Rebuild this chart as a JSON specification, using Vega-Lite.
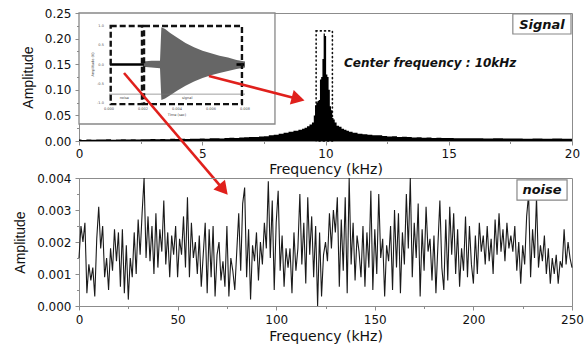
{
"$schema": "https://vega.github.io/schema/vega-lite/v6.json",
"background": "white",
"padding": {"left": 13, "top": 6, "right": 0, "bottom": 0},
"config": {
 "view": {"stroke": "#8c8c8c", "strokeWidth": 1},
 "axis": {"grid": false, "labelOverlap": false, "labelFlush": false, "domainColor": "#8c8c8c", "tickColor": "#8c8c8c", "tickSize": 4, "tickCount": 30, "labelFont": "DejaVu Sans", "labelFontSize": 12, "labelColor": "#111", "titleFont": "DejaVu Sans", "titleFontSize": 14, "titleFontWeight": "normal", "titleColor": "#111"},
 "axisY": {"titleFont": "Liberation Sans", "titleFontSize": 14}
},
"datasets": {
 "spectrum": [
  {"f":0,"a":0.003},{"f":0.2,"a":0.002},{"f":0.4,"a":0.003},{"f":0.6,"a":0.0025},{"f":0.8,"a":0.003},{"f":1.0,"a":0.0028},{"f":1.2,"a":0.0032},{"f":1.4,"a":0.0025},{"f":1.6,"a":0.003},{"f":1.8,"a":0.0035},{"f":2.0,"a":0.003},{"f":2.2,"a":0.0033},{"f":2.4,"a":0.0028},{"f":2.6,"a":0.0035},{"f":2.8,"a":0.0032},{"f":3.0,"a":0.0038},{"f":3.2,"a":0.0033},{"f":3.4,"a":0.004},{"f":3.6,"a":0.0036},{"f":3.8,"a":0.0042},{"f":4.0,"a":0.0038},{"f":4.2,"a":0.0045},{"f":4.4,"a":0.004},{"f":4.6,"a":0.0046},{"f":4.8,"a":0.0043},{"f":5.0,"a":0.005},{"f":5.2,"a":0.0046},{"f":5.4,"a":0.0052},{"f":5.6,"a":0.0055},{"f":5.8,"a":0.005},{"f":6.0,"a":0.006},{"f":6.2,"a":0.0065},{"f":6.4,"a":0.006},{"f":6.6,"a":0.007},{"f":6.8,"a":0.0075},{"f":7.0,"a":0.008},{"f":7.2,"a":0.0078},{"f":7.4,"a":0.009},{"f":7.6,"a":0.0095},{"f":7.8,"a":0.011},{"f":8.0,"a":0.012},{"f":8.2,"a":0.014},{"f":8.4,"a":0.016},{"f":8.6,"a":0.018},{"f":8.8,"a":0.02},{"f":9.0,"a":0.022},{"f":9.1,"a":0.024},{"f":9.2,"a":0.026},{"f":9.3,"a":0.029},{"f":9.4,"a":0.032},{"f":9.5,"a":0.036},{"f":9.55,"a":0.05},{"f":9.6,"a":0.07},{"f":9.65,"a":0.075},{"f":9.7,"a":0.078},{"f":9.75,"a":0.08},{"f":9.8,"a":0.12},{"f":9.85,"a":0.125},{"f":9.9,"a":0.16},{"f":9.95,"a":0.21},{"f":10.0,"a":0.205},{"f":10.05,"a":0.13},{"f":10.1,"a":0.125},{"f":10.15,"a":0.1},{"f":10.2,"a":0.068},{"f":10.25,"a":0.06},{"f":10.3,"a":0.045},{"f":10.35,"a":0.042},{"f":10.4,"a":0.036},{"f":10.5,"a":0.03},{"f":10.6,"a":0.028},{"f":10.7,"a":0.024},{"f":10.8,"a":0.022},{"f":10.9,"a":0.02},{"f":11.0,"a":0.018},{"f":11.2,"a":0.016},{"f":11.4,"a":0.014},{"f":11.6,"a":0.013},{"f":11.8,"a":0.012},{"f":12.0,"a":0.011},{"f":12.2,"a":0.011},{"f":12.4,"a":0.01},{"f":12.6,"a":0.009},{"f":12.8,"a":0.0095},{"f":13.0,"a":0.008},{"f":13.2,"a":0.0085},{"f":13.4,"a":0.0078},{"f":13.6,"a":0.007},{"f":13.8,"a":0.0072},{"f":14.0,"a":0.0065},{"f":14.2,"a":0.0068},{"f":14.4,"a":0.006},{"f":14.6,"a":0.0062},{"f":14.8,"a":0.0058},{"f":15.0,"a":0.006},{"f":15.4,"a":0.0055},{"f":15.8,"a":0.0052},{"f":16.2,"a":0.0055},{"f":16.6,"a":0.005},{"f":17.0,"a":0.0052},{"f":17.4,"a":0.0048},{"f":17.8,"a":0.005},{"f":18.2,"a":0.0046},{"f":18.6,"a":0.0048},{"f":19.0,"a":0.0045},{"f":19.4,"a":0.0047},{"f":19.8,"a":0.0044},{"f":20.0,"a":0.0045}
 ],
 "noise": [
  {"f":0,"a":0.0015},{"f":1,"a":0.0025},{"f":2,"a":0.0020},{"f":3,"a":0.0026},{"f":4,"a":0.0004},{"f":5,"a":0.0013},{"f":6,"a":0.0008},{"f":7,"a":0.0012},{"f":8,"a":0.0003},{"f":9,"a":0.0021},
  {"f":10,"a":0.0031},{"f":11,"a":0.0018},{"f":12,"a":0.0025},{"f":13,"a":0.0009},{"f":14,"a":0.0015},{"f":15,"a":0.0005},{"f":16,"a":0.0018},{"f":17,"a":0.0011},{"f":18,"a":0.0024},{"f":19,"a":0.0014},
  {"f":20,"a":0.0023},{"f":21,"a":0.0006},{"f":22,"a":0.0024},{"f":23,"a":0.0004},{"f":24,"a":0.0019},{"f":25,"a":0.0002},{"f":26,"a":0.0015},{"f":27,"a":0.0009},{"f":28,"a":0.0023},{"f":29,"a":0.0010},
  {"f":30,"a":0.0027},{"f":31,"a":0.0016},{"f":32,"a":0.0029},{"f":33,"a":0.0040},{"f":34,"a":0.0015},{"f":35,"a":0.0028},{"f":36,"a":0.0014},{"f":37,"a":0.0025},{"f":38,"a":0.0010},{"f":39,"a":0.0029},
  {"f":40,"a":0.0012},{"f":41,"a":0.0024},{"f":42,"a":0.0017},{"f":43,"a":0.0033},{"f":44,"a":0.0013},{"f":45,"a":0.0023},{"f":46,"a":0.0009},{"f":47,"a":0.0022},{"f":48,"a":0.0016},{"f":49,"a":0.0025},
  {"f":50,"a":0.0009},{"f":51,"a":0.0021},{"f":52,"a":0.0016},{"f":53,"a":0.0028},{"f":54,"a":0.0012},{"f":55,"a":0.0034},{"f":56,"a":0.0009},{"f":57,"a":0.0026},{"f":58,"a":0.0015},{"f":59,"a":0.0020},
  {"f":60,"a":0.0010},{"f":61,"a":0.0022},{"f":62,"a":0.0006},{"f":63,"a":0.0016},{"f":64,"a":0.0026},{"f":65,"a":0.0004},{"f":66,"a":0.0024},{"f":67,"a":0.0009},{"f":68,"a":0.0025},{"f":69,"a":0.0003},
  {"f":70,"a":0.0016},{"f":71,"a":0.0020},{"f":72,"a":0.0008},{"f":73,"a":0.0014},{"f":74,"a":0.0006},{"f":75,"a":0.0025},{"f":76,"a":0.0003},{"f":77,"a":0.0015},{"f":78,"a":0.0011},{"f":79,"a":0.0005},
  {"f":80,"a":0.0017},{"f":81,"a":0.0029},{"f":82,"a":0.0011},{"f":83,"a":0.0032},{"f":84,"a":0.0037},{"f":85,"a":0.0009},{"f":86,"a":0.0024},{"f":87,"a":0.0002},{"f":88,"a":0.0019},{"f":89,"a":0.0014},
  {"f":90,"a":0.0023},{"f":91,"a":0.0008},{"f":92,"a":0.0020},{"f":93,"a":0.0013},{"f":94,"a":0.0026},{"f":95,"a":0.0018},{"f":96,"a":0.0039},{"f":97,"a":0.0015},{"f":98,"a":0.0033},{"f":99,"a":0.0005},
  {"f":100,"a":0.0026},{"f":101,"a":0.0036},{"f":102,"a":0.0011},{"f":103,"a":0.0022},{"f":104,"a":0.0006},{"f":105,"a":0.0018},{"f":106,"a":0.0012},{"f":107,"a":0.0018},{"f":108,"a":0.0004},{"f":109,"a":0.0023},
  {"f":110,"a":0.0011},{"f":111,"a":0.0018},{"f":112,"a":0.0035},{"f":113,"a":0.0013},{"f":114,"a":0.0026},{"f":115,"a":0.0007},{"f":116,"a":0.0034},{"f":117,"a":0.0016},{"f":118,"a":0.0028},{"f":119,"a":0.0009},
  {"f":120,"a":0.0025},{"f":121,"a":0.0000},{"f":122,"a":0.0023},{"f":123,"a":0.0003},{"f":124,"a":0.0016},{"f":125,"a":0.0020},{"f":126,"a":0.0014},{"f":127,"a":0.0029},{"f":128,"a":0.0018},{"f":129,"a":0.0030},
  {"f":130,"a":0.0023},{"f":131,"a":0.0034},{"f":132,"a":0.0006},{"f":133,"a":0.0027},{"f":134,"a":0.0011},{"f":135,"a":0.0034},{"f":136,"a":0.0004},{"f":137,"a":0.0040},{"f":138,"a":0.0013},{"f":139,"a":0.0026},
  {"f":140,"a":0.0008},{"f":141,"a":0.0022},{"f":142,"a":0.0017},{"f":143,"a":0.0009},{"f":144,"a":0.0025},{"f":145,"a":0.0006},{"f":146,"a":0.0023},{"f":147,"a":0.0012},{"f":148,"a":0.0036},{"f":149,"a":0.0005},
  {"f":150,"a":0.0024},{"f":151,"a":0.0010},{"f":152,"a":0.0035},{"f":153,"a":0.0015},{"f":154,"a":0.0021},{"f":155,"a":0.0003},{"f":156,"a":0.0019},{"f":157,"a":0.0014},{"f":158,"a":0.0025},{"f":159,"a":0.0005},
  {"f":160,"a":0.0030},{"f":161,"a":0.0012},{"f":162,"a":0.0029},{"f":163,"a":0.0004},{"f":164,"a":0.0023},{"f":165,"a":0.0013},{"f":166,"a":0.0035},{"f":167,"a":0.0018},{"f":168,"a":0.0040},{"f":169,"a":0.0009},
  {"f":170,"a":0.0026},{"f":171,"a":0.0015},{"f":172,"a":0.0032},{"f":173,"a":0.0003},{"f":174,"a":0.0024},{"f":175,"a":0.0011},{"f":176,"a":0.0031},{"f":177,"a":0.0017},{"f":178,"a":0.0021},{"f":179,"a":0.0008},
  {"f":180,"a":0.0022},{"f":181,"a":0.0004},{"f":182,"a":0.0019},{"f":183,"a":0.0033},{"f":184,"a":0.0012},{"f":185,"a":0.0005},{"f":186,"a":0.0027},{"f":187,"a":0.0008},{"f":188,"a":0.0031},{"f":189,"a":0.0016},
  {"f":190,"a":0.0029},{"f":191,"a":0.0010},{"f":192,"a":0.0024},{"f":193,"a":0.0006},{"f":194,"a":0.0018},{"f":195,"a":0.0011},{"f":196,"a":0.0028},{"f":197,"a":0.0009},{"f":198,"a":0.0025},{"f":199,"a":0.0013},
  {"f":200,"a":0.0007},{"f":201,"a":0.0022},{"f":202,"a":0.0010},{"f":203,"a":0.0026},{"f":204,"a":0.0017},{"f":205,"a":0.0022},{"f":206,"a":0.0013},{"f":207,"a":0.0025},{"f":208,"a":0.0014},{"f":209,"a":0.0021},
  {"f":210,"a":0.0010},{"f":211,"a":0.0027},{"f":212,"a":0.0016},{"f":213,"a":0.0029},{"f":214,"a":0.0017},{"f":215,"a":0.0024},{"f":216,"a":0.0014},{"f":217,"a":0.0026},{"f":218,"a":0.0018},{"f":219,"a":0.0022},
  {"f":220,"a":0.0017},{"f":221,"a":0.0025},{"f":222,"a":0.0011},{"f":223,"a":0.0020},{"f":224,"a":0.0007},{"f":225,"a":0.0019},{"f":226,"a":0.0013},{"f":227,"a":0.0028},{"f":228,"a":0.0035},{"f":229,"a":0.0009},
  {"f":230,"a":0.0024},{"f":231,"a":0.0015},{"f":232,"a":0.0034},{"f":233,"a":0.0012},{"f":234,"a":0.0019},{"f":235,"a":0.0014},{"f":236,"a":0.0022},{"f":237,"a":0.0010},{"f":238,"a":0.0018},{"f":239,"a":0.0007},
  {"f":240,"a":0.0015},{"f":241,"a":0.0010},{"f":242,"a":0.0016},{"f":243,"a":0.0007},{"f":244,"a":0.0014},{"f":245,"a":0.0012},{"f":246,"a":0.0024},{"f":247,"a":0.0013},{"f":248,"a":0.0020},{"f":249,"a":0.0015},
  {"f":250,"a":0.0012}
 ],
 "envelope": [
  {"t":2.0,"hi":0.08,"lo":-0.06},{"t":2.5,"hi":0.1,"lo":-0.08},{"t":3.0,"hi":0.1,"lo":-0.1},{"t":3.08,"hi":0.97,"lo":-0.92},{"t":3.3,"hi":0.92,"lo":-0.88},{"t":3.6,"hi":0.82,"lo":-0.8},{"t":4.0,"hi":0.7,"lo":-0.68},{"t":4.5,"hi":0.56,"lo":-0.55},{"t":5.0,"hi":0.45,"lo":-0.44},{"t":5.5,"hi":0.36,"lo":-0.35},{"t":6.0,"hi":0.29,"lo":-0.28},{"t":6.5,"hi":0.23,"lo":-0.22},{"t":7.0,"hi":0.18,"lo":-0.17},{"t":7.5,"hi":0.12,"lo":-0.12},{"t":8.0,"hi":0.08,"lo":-0.08}
 ]
},
"bounds": "flush",
"spacing": 37,
"vconcat": [
 {
  "width": 493,
  "height": 128,
  "resolve": {"scale": {"x": "independent", "y": "independent"}},
  "layer": [
   {
    "layer": [
     {
      "data": {"values": [{"f1": 9.62, "f2": 10.28, "a1": 0, "a2": 0.215}]},
      "mark": {"type": "rect", "fill": null, "stroke": "#111", "strokeWidth": 1.6, "strokeDash": [1, 3.2], "strokeCap": "round"},
      "encoding": {
       "x": {"field": "f1", "type": "quantitative", "scale": {"domain": [0, 20], "nice": false, "zero": false}, "title": "Frequency (kHz)", "axis": {"values": [0, 5, 10, 15, 20], "tickCount": 30, "format": "d", "labelPadding": 3, "titlePadding": 3, "labelOverlap": false, "labelFlush": false}},
       "x2": {"field": "f2"},
       "y": {"field": "a1", "type": "quantitative", "scale": {"domain": [0, 0.25], "nice": false, "zero": false}, "title": "Amplitude", "axis": {"values": [0, 0.05, 0.1, 0.15, 0.2, 0.25], "tickCount": 30, "format": ".2f", "labelPadding": 4, "titlePadding": 9, "labelOverlap": false}},
       "y2": {"field": "a2"}
      }
     },
     {
      "data": {"name": "spectrum"},
      "mark": {"type": "area", "interpolate": "step", "color": "#000"},
      "encoding": {
       "x": {"field": "f", "type": "quantitative", "title": "Frequency (kHz)"},
       "y": {"field": "a", "type": "quantitative", "title": "Amplitude"}
      }
     },
     {
      "data": {"values": [{"f1": 0, "f2": 7.95, "a1": 0.0332, "a2": 0.25}]},
      "mark": {"type": "rect", "fill": "white", "stroke": "#888", "strokeWidth": 1.3},
      "encoding": {
       "x": {"field": "f1", "type": "quantitative", "title": "Frequency (kHz)"},
       "x2": {"field": "f2"},
       "y": {"field": "a1", "type": "quantitative", "title": "Amplitude"},
       "y2": {"field": "a2"}
      }
     },
     {
      "data": {"values": [{"f1": 17.6, "f2": 19.96, "a1": 0.209, "a2": 0.248}]},
      "mark": {"type": "rect", "fill": "white", "stroke": "#888", "strokeWidth": 1.2},
      "encoding": {
       "x": {"field": "f1", "type": "quantitative", "title": "Frequency (kHz)"},
       "x2": {"field": "f2"},
       "y": {"field": "a1", "type": "quantitative", "title": "Amplitude"},
       "y2": {"field": "a2"}
      }
     },
     {
      "data": {"values": [{"f": 18.78, "a": 0.2266, "txt": "Signal"}]},
      "mark": {"type": "text", "font": "DejaVu Sans", "fontSize": 13, "fontWeight": "bold", "fontStyle": "italic", "align": "center", "baseline": "middle", "color": "#111"},
      "encoding": {
       "x": {"field": "f", "type": "quantitative", "title": "Frequency (kHz)"},
       "y": {"field": "a", "type": "quantitative", "title": "Amplitude"},
       "text": {"field": "txt"}
      }
     },
     {
      "data": {"values": [{"f": 10.75, "a": 0.1523, "txt": "Center frequency : 10kHz"}]},
      "mark": {"type": "text", "font": "DejaVu Sans", "fontSize": 12, "fontWeight": "bold", "fontStyle": "italic", "align": "left", "baseline": "middle", "color": "#111"},
      "encoding": {
       "x": {"field": "f", "type": "quantitative", "title": "Frequency (kHz)"},
       "y": {"field": "a", "type": "quantitative", "title": "Amplitude"},
       "text": {"field": "txt"}
      }
     }
    ]
   },
   {
    "layer": [
     {
      "data": {"name": "envelope"},
      "mark": {"type": "area", "color": "#666"},
      "encoding": {
       "x": {"field": "t", "type": "quantitative", "axis": null, "scale": {"domain": [-1.765, 27.235], "nice": false, "zero": false}},
       "y": {"field": "hi", "type": "quantitative", "axis": null, "scale": {"domain": [-1.987, 1.3377], "nice": false, "zero": false}},
       "y2": {"field": "lo"}
      }
     },
     {
      "data": {"values": [{"s": 1, "t": 0.05, "v": 0.0}, {"s": 1, "t": 2.05, "v": 0.0}, {"s": 2, "t": 7.5, "v": 0.0}, {"s": 2, "t": 7.95, "v": 0.0}]},
      "mark": {"type": "line", "color": "#000", "strokeWidth": 2.6},
      "encoding": {
       "x": {"field": "t", "type": "quantitative", "axis": null},
       "y": {"field": "v", "type": "quantitative", "axis": null},
       "detail": {"field": "s"}
      }
     },
     {
      "data": {"values": [{"t1": 0, "t2": 8, "v": -0.77}]},
      "mark": {"type": "rule", "color": "#777", "strokeWidth": 0.7},
      "encoding": {
       "x": {"field": "t1", "type": "quantitative", "axis": null},
       "x2": {"field": "t2"},
       "y": {"field": "v", "type": "quantitative", "axis": null}
      }
     },
     {
      "data": {"values": [{"t1": 0.1, "t2": 1.94, "v1": -1.03, "v2": 1.0}, {"t1": 2.06, "t2": 7.82, "v1": -1.03, "v2": 1.0}]},
      "mark": {"type": "rect", "fill": null, "stroke": "#111", "strokeWidth": 2.4, "strokeDash": [6, 3]},
      "encoding": {
       "x": {"field": "t1", "type": "quantitative", "axis": null},
       "x2": {"field": "t2"},
       "y": {"field": "v1", "type": "quantitative", "axis": null},
       "y2": {"field": "v2"}
      }
     },
     {
      "data": {"values": [
       {"t": -0.3, "v": 1.0, "txt": "1.0"}, {"t": -0.3, "v": 0.5, "txt": "0.5"}, {"t": -0.3, "v": 0.0, "txt": "0.0"}, {"t": -0.3, "v": -0.5, "txt": "-0.5"}, {"t": -0.3, "v": -1.0, "txt": "-1.0"}
      ]},
      "mark": {"type": "text", "font": "DejaVu Sans", "fontSize": 3.5, "align": "right", "baseline": "middle", "color": "#555"},
      "encoding": {
       "x": {"field": "t", "type": "quantitative", "axis": null},
       "y": {"field": "v", "type": "quantitative", "axis": null},
       "text": {"field": "txt"}
      }
     },
     {
      "data": {"values": [
       {"t": 0, "v": -1.15, "txt": "0.000"}, {"t": 2, "v": -1.15, "txt": "0.002"}, {"t": 4, "v": -1.15, "txt": "0.004"}, {"t": 6, "v": -1.15, "txt": "0.006"}, {"t": 8, "v": -1.15, "txt": "0.008"},
       {"t": 4, "v": -1.3, "txt": "Time (sec)"}, {"t": 0.9, "v": -0.87, "txt": "noise"}, {"t": 4.6, "v": -0.87, "txt": "signal"}
      ]},
      "mark": {"type": "text", "font": "DejaVu Sans", "fontSize": 3.5, "align": "center", "baseline": "middle", "color": "#444"},
      "encoding": {
       "x": {"field": "t", "type": "quantitative", "axis": null},
       "y": {"field": "v", "type": "quantitative", "axis": null},
       "text": {"field": "txt"}
      }
     },
     {
      "data": {"values": [{"t": -0.94, "v": 0.0, "txt": "Amplitude (V)"}]},
      "mark": {"type": "text", "font": "DejaVu Sans", "fontSize": 3.5, "angle": 270, "align": "center", "baseline": "middle", "color": "#444"},
      "encoding": {
       "x": {"field": "t", "type": "quantitative", "axis": null},
       "y": {"field": "v", "type": "quantitative", "axis": null},
       "text": {"field": "txt"}
      }
     }
    ]
   },
   {
    "layer": [
     {
      "data": {"values": [{"f1": 5.27, "a1": 0.127, "f2": 8.89, "a2": 0.0822}, {"f1": 1.826, "a1": 0.1328, "f2": 5.86, "a2": -0.0951}]},
      "mark": {"type": "rule", "color": "#e0201c", "strokeWidth": 2.6},
      "encoding": {
       "x": {"field": "f1", "type": "quantitative", "scale": {"domain": [0, 20], "nice": false, "zero": false}, "axis": {"orient": "bottom", "values": [2.5, 7.5, 12.5, 17.5], "tickCount": 30, "tickSize": 2.5, "labels": false, "domain": false, "title": null}},
       "x2": {"field": "f2"},
       "y": {"field": "a1", "type": "quantitative", "scale": {"domain": [0, 0.25], "nice": false, "zero": false}, "axis": {"orient": "left", "values": [0.025, 0.075, 0.125, 0.175, 0.225], "tickCount": 30, "tickSize": 2.5, "labels": false, "domain": false, "title": null}},
       "y2": {"field": "a2"}
      }
     },
     {
      "data": {"values": [{"f": 8.89, "a": 0.0822, "ang": 14.6}, {"f": 5.86, "a": -0.0951, "ang": 49.6}]},
      "mark": {"type": "point", "shape": "triangle-right", "filled": true, "color": "#e0201c", "size": 230, "opacity": 1},
      "encoding": {
       "x": {"field": "f", "type": "quantitative", "title": null},
       "y": {"field": "a", "type": "quantitative", "title": null},
       "angle": {"field": "ang", "type": "quantitative", "scale": null}
      }
     }
    ]
   }
  ]
 },
 {
  "width": 493,
  "height": 128,
  "resolve": {"scale": {"x": "independent", "y": "independent"}},
  "layer": [
   {
    "data": {"name": "noise"},
    "mark": {"type": "line", "color": "#1a1a1a", "strokeWidth": 1.1},
    "encoding": {
     "x": {"field": "f", "type": "quantitative", "scale": {"domain": [0, 250], "nice": false, "zero": false}, "title": "Frequency (kHz)", "axis": {"values": [0, 50, 100, 150, 200, 250], "tickCount": 30, "format": "d", "labelPadding": 4, "titlePadding": 4, "labelOverlap": false, "labelFlush": false}},
     "y": {"field": "a", "type": "quantitative", "scale": {"domain": [0, 0.004], "nice": false, "zero": false}, "title": "Amplitude", "axis": {"values": [0, 0.001, 0.002, 0.003, 0.004], "tickCount": 30, "format": ".3f", "labelPadding": 4, "titlePadding": 9, "labelOverlap": false}}
    }
   },
   {
    "layer": [
     {
      "data": {"values": [{"f1": 222.1, "f2": 247.5, "a1": 0.00331, "a2": 0.00394}]},
      "mark": {"type": "rect", "fill": "white", "stroke": "#888", "strokeWidth": 1.2},
      "encoding": {
       "x": {"field": "f1", "type": "quantitative", "scale": {"domain": [0, 250], "nice": false, "zero": false}, "axis": {"orient": "bottom", "values": [25, 75, 125, 175, 225], "tickCount": 30, "tickSize": 2.5, "labels": false, "domain": false, "title": null}},
       "x2": {"field": "f2"},
       "y": {"field": "a1", "type": "quantitative", "scale": {"domain": [0, 0.004], "nice": false, "zero": false}, "axis": {"orient": "left", "values": [0.0005, 0.0015, 0.0025, 0.0035], "tickCount": 30, "tickSize": 2.5, "labels": false, "domain": false, "title": null}},
       "y2": {"field": "a2"}
      }
     },
     {
      "data": {"values": [{"f": 234.8, "a": 0.003625, "txt": "noise"}]},
      "mark": {"type": "text", "font": "DejaVu Sans", "fontSize": 13, "fontWeight": "bold", "fontStyle": "italic", "align": "center", "baseline": "middle", "color": "#111"},
      "encoding": {
       "x": {"field": "f", "type": "quantitative", "title": null},
       "y": {"field": "a", "type": "quantitative", "title": null},
       "text": {"field": "txt"}
      }
     }
    ]
   }
  ]
 }
]
}
